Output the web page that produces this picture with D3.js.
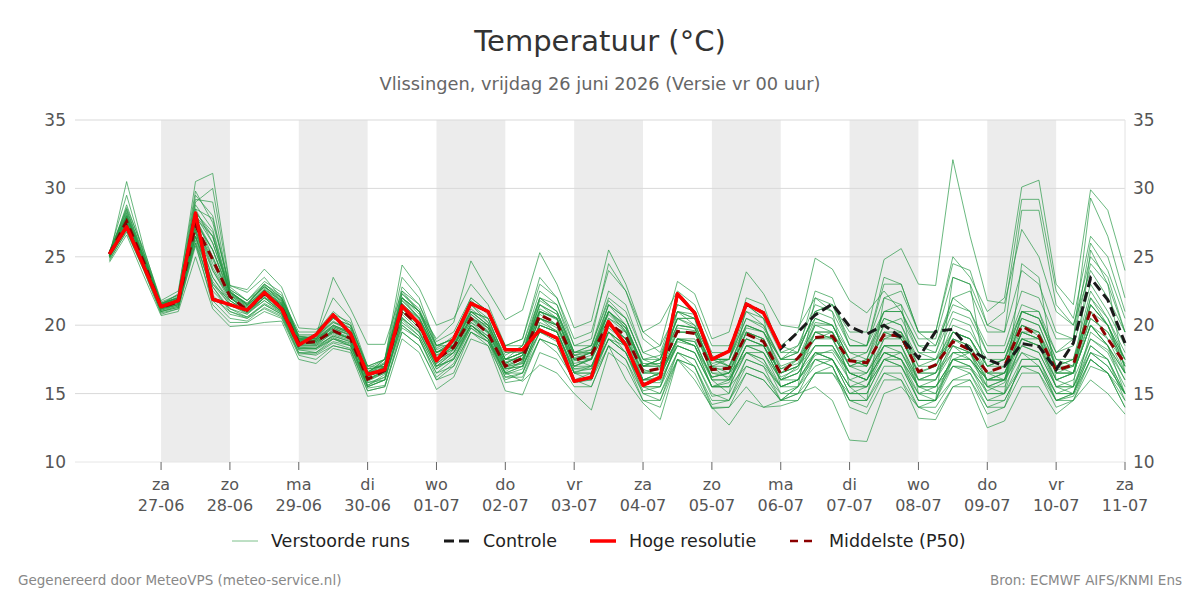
<!DOCTYPE html>
<html lang="nl">
<head>
    <meta charset="UTF-8">
    <title>Temperatuur (°C)</title>
    <script src="https://cdnjs.cloudflare.com/ajax/libs/d3/7.8.5/d3.min.js"></script>
    <style>
        body {
            margin: 0;
            background: #fff;
            font-family: "DejaVu Sans", sans-serif;
        }

        .grid line {
            stroke: #d9d9d9;
        }

        .band {
            fill: #ececec;
        }

        .run {
            fill: none;
            stroke: #239643;
            stroke-opacity: 0.68;
            stroke-width: 1;
        }

        .tick-label {
            fill: #555;
        }
    </style>
</head>
<body>
    <div id="wrapper"></div>
    <script>
        // data: 6-hourly values from 26-06 06 UTC
        const startTime = Date.UTC(2026, 5, 26, 6)
        const stepHours = 6

        const hires = [25.2, 27.2, 24.3, 21.35, 21.8, 28.2, 21.9, 21.5, 21.1, 22.4, 21.2, 18.55,
            19.3, 20.75, 19.4, 16.4, 16.75, 21.4, 20.1, 17.4, 19.0, 21.6, 21.0, 18.2,
            18.2, 19.65, 19.05, 15.9, 16.2, 20.25, 18.55, 15.6, 16.2, 22.3, 20.9, 17.5,
            18.1, 21.55, 20.9, 18.3]

        const control = [25.2, 27.2, 24.3, 21.35, 21.8, 28.2, 21.9, 21.5, 21.1, 22.4, 21.2, 18.55,
            19.3, 20.75, 19.4, 16.4, 16.75, 21.4, 20.1, 17.4, 19.0, 21.6, 21.0, 18.2,
            18.2, 19.65, 19.05, 15.9, 16.2, 20.25, 18.55, 15.6, 16.2, 22.3, 20.9, 17.5,
            18.1, 21.55, 20.9, 18.3, 19.5, 20.75, 21.55, 19.9, 19.35, 20.0, 19.1, 17.6,
            19.55, 19.7, 18.2, 17.5, 17.0, 18.65, 18.45, 16.75, 18.7, 23.45, 21.85, 18.7]

        const p50 = [25.2, 27.6, 24.6, 21.3, 21.7, 27.3, 24.8, 22.1, 21.1, 22.3, 21.3, 18.7,
            18.8, 19.6, 19.05, 16.05, 16.7, 21.1, 19.9, 17.5, 18.4, 20.5, 19.4, 17.0,
            17.6, 20.75, 20.15, 17.4, 17.85, 20.2, 19.2, 16.6, 16.85, 19.55, 19.4, 16.75,
            16.85, 19.35, 18.8, 16.45, 17.6, 19.1, 19.2, 17.4, 17.25, 19.3, 19.2, 16.6,
            17.1, 18.8, 18.2, 16.55, 17.0, 19.95, 19.2, 16.7, 17.1, 21.1, 19.0, 17.2]

        const members = [
            [25.0, 30.5, 25.6, 21.6, 22.0, 29.0, 30.0, 22.8, 21.8, 23.0, 22.2, 19.2, 19.0, 20.5, 19.8, 16.5, 17.2, 22.5, 21.0, 18.0, 18.8, 21.5, 20.2, 17.8, 18.5, 22.0, 21.0, 18.0, 18.2, 21.5, 20.0, 17.0, 17.5, 20.5, 19.8, 17.0, 16.0, 18.5, 18.0, 15.5, 16.0, 17.8, 18.2, 16.5, 16.0, 18.0, 17.5, 15.0, 15.5, 17.0, 16.8, 15.2, 15.8, 18.5, 18.0, 15.5, 16.0, 19.0, 18.2, 16.0],
            [25.3, 29.5, 25.2, 21.5, 22.3, 30.5, 31.1, 22.9, 22.4, 23.5, 22.0, 19.5, 19.5, 21.0, 20.0, 17.0, 17.5, 23.5, 22.0, 18.5, 19.0, 22.0, 21.0, 18.0, 18.0, 21.0, 20.0, 17.0, 17.0, 19.5, 18.5, 16.0, 16.5, 19.0, 18.5, 16.2, 16.5, 19.5, 19.0, 16.8, 17.5, 20.5, 20.0, 17.5, 17.0, 20.0, 19.5, 16.0, 16.5, 19.5, 19.0, 17.0, 17.5, 21.0, 20.5, 17.5, 17.0, 22.0, 20.0, 17.0],
            [25.1, 28.0, 24.8, 21.4, 21.9, 28.5, 26.0, 22.5, 21.5, 22.8, 21.8, 19.0, 19.2, 23.5, 21.2, 18.6, 18.6, 22.5, 21.5, 18.5, 19.0, 21.0, 20.0, 17.5, 17.5, 20.0, 19.5, 16.5, 16.0, 18.5, 17.5, 15.0, 14.5, 17.5, 17.0, 14.5, 14.5, 16.5, 16.0, 14.5, 15.5, 17.0, 17.5, 15.5, 15.5, 18.5, 18.5, 15.5, 15.0, 17.5, 17.5, 15.5, 16.0, 19.0, 18.5, 15.5, 15.5, 18.0, 17.0, 15.0],
            [25.2, 27.8, 24.7, 21.2, 21.6, 27.0, 23.5, 21.8, 21.0, 22.0, 21.5, 19.0, 19.0, 20.0, 19.5, 16.5, 17.5, 22.0, 21.0, 19.0, 20.2, 24.7, 22.5, 20.4, 21.1, 25.3, 23.0, 19.8, 20.3, 25.5, 23.0, 19.5, 18.5, 21.0, 20.0, 17.5, 17.0, 19.0, 18.5, 16.5, 17.0, 18.5, 18.5, 16.0, 16.5, 18.5, 18.0, 16.0, 16.0, 18.0, 18.0, 16.5, 16.5, 19.5, 19.0, 16.5, 16.5, 20.5, 19.5, 17.0],
            [25.0, 27.0, 24.2, 21.0, 21.3, 26.5, 22.0, 21.0, 20.5, 21.5, 20.8, 18.0, 18.0, 19.0, 18.5, 15.5, 16.0, 20.0, 19.0, 16.5, 17.0, 19.5, 18.8, 16.5, 15.9, 17.1, 16.5, 15.0, 13.8, 18.0, 17.0, 14.5, 14.0, 17.5, 17.0, 14.2, 14.5, 17.0, 16.5, 14.5, 15.0, 16.5, 17.0, 14.5, 14.5, 17.0, 17.0, 14.5, 14.5, 16.0, 16.5, 14.0, 14.5, 17.0, 17.0, 15.0, 15.0, 18.0, 17.5, 15.0],
            [25.3, 28.5, 25.0, 21.5, 22.0, 28.8, 27.0, 22.5, 21.5, 23.0, 22.0, 19.3, 19.3, 20.5, 20.0, 16.8, 17.0, 22.0, 20.5, 18.0, 18.5, 21.0, 20.5, 17.5, 18.0, 22.0, 21.0, 18.0, 18.5, 22.0, 21.0, 18.0, 18.5, 23.2, 22.3, 19.0, 19.5, 23.9, 22.3, 20.0, 19.8, 22.0, 21.5, 19.0, 18.5, 21.0, 21.0, 18.5, 18.0, 21.0, 20.5, 18.0, 18.0, 21.5, 21.0, 18.0, 18.5, 23.0, 21.0, 18.5],
            [25.1, 27.3, 24.5, 21.3, 21.7, 26.0, 22.5, 21.2, 20.8, 21.8, 21.0, 18.3, 18.3, 19.0, 18.7, 15.8, 16.0, 20.5, 19.5, 17.0, 17.5, 20.0, 19.0, 16.5, 17.0, 19.5, 19.0, 16.5, 16.5, 19.0, 18.0, 15.5, 15.0, 17.5, 16.0, 14.0, 12.7, 14.5, 14.0, 14.1, 14.5, 16.5, 16.5, 15.0, 15.5, 17.5, 17.0, 15.0, 15.0, 17.0, 17.0, 15.5, 15.5, 18.0, 17.5, 15.0, 15.5, 19.0, 18.0, 15.5],
            [25.2, 27.5, 24.5, 21.4, 21.8, 27.5, 24.0, 22.0, 21.2, 22.5, 21.5, 18.8, 18.8, 19.5, 19.0, 16.0, 16.5, 21.0, 20.0, 17.5, 18.5, 21.0, 20.0, 17.5, 18.0, 21.5, 20.5, 17.5, 17.5, 21.0, 20.0, 17.0, 17.0, 20.5, 20.0, 17.5, 17.5, 21.0, 20.5, 18.5, 19.5, 24.9, 24.1, 21.8, 20.9, 22.5, 21.0, 18.0, 17.5, 19.0, 18.5, 16.5, 16.5, 19.0, 18.5, 16.0, 16.5, 20.0, 18.5, 16.5],
            [25.0, 27.2, 24.4, 21.1, 21.5, 27.0, 23.0, 21.5, 20.8, 22.0, 21.0, 18.5, 18.5, 19.2, 18.8, 15.5, 16.0, 20.5, 19.5, 17.0, 18.0, 20.0, 19.0, 16.5, 17.0, 20.0, 19.5, 16.5, 17.0, 19.5, 18.5, 16.0, 16.0, 18.5, 18.0, 15.5, 15.5, 17.0, 16.5, 15.0, 15.0, 15.5, 14.5, 11.6, 11.5, 15.0, 15.5, 14.0, 14.0, 16.0, 16.0, 14.0, 14.0, 16.5, 16.5, 14.0, 14.5, 17.5, 16.5, 14.0],
            [25.3, 28.2, 24.9, 21.5, 22.1, 29.5, 28.0, 22.6, 21.8, 23.2, 22.4, 19.0, 19.0, 20.0, 19.5, 16.5, 17.0, 21.5, 20.5, 18.0, 18.5, 20.8, 19.8, 17.0, 17.5, 20.5, 20.0, 17.5, 18.0, 20.5, 19.5, 17.0, 17.0, 19.5, 19.5, 17.0, 17.5, 20.0, 19.5, 17.5, 18.0, 21.0, 21.5, 19.5, 19.5, 24.8, 25.6, 23.0, 22.9, 32.1, 26.5, 21.8, 21.6, 27.0, 25.0, 21.0, 20.0, 24.0, 22.0, 19.5],
            [25.2, 27.9, 24.7, 21.4, 21.8, 27.8, 25.5, 22.3, 21.3, 22.6, 21.6, 18.9, 18.9, 20.0, 19.4, 16.2, 17.0, 21.8, 20.5, 18.0, 18.8, 21.5, 20.5, 17.5, 18.0, 21.0, 20.5, 17.5, 18.0, 21.0, 20.0, 17.0, 17.5, 20.5, 20.5, 17.5, 17.5, 20.5, 20.0, 17.5, 18.5, 21.5, 21.0, 18.5, 18.5, 22.0, 22.5, 19.5, 19.5, 25.0, 23.5, 21.0, 22.0, 30.1, 30.6, 23.0, 21.5, 29.9, 28.4, 24.0],
            [25.0, 28.8, 25.3, 21.7, 22.2, 29.2, 29.0, 22.4, 21.6, 22.8, 22.0, 19.0, 18.8, 19.8, 19.2, 16.4, 17.2, 22.0, 21.0, 18.5, 18.5, 20.5, 20.0, 17.5, 18.5, 22.5, 21.5, 18.5, 18.5, 22.5, 21.5, 18.0, 17.5, 21.0, 20.5, 17.5, 17.0, 20.0, 19.5, 17.0, 17.5, 20.0, 20.0, 18.0, 18.0, 21.0, 21.5, 19.0, 19.0, 23.5, 23.0, 20.0, 21.0, 29.2, 29.2, 22.5, 20.5, 26.5, 25.0, 21.0],
            [25.4, 28.3, 25.0, 21.6, 22.0, 28.0, 26.5, 22.2, 21.2, 22.5, 21.5, 18.8, 18.6, 19.7, 19.3, 16.2, 16.8, 21.2, 20.2, 17.8, 18.2, 20.5, 19.8, 17.2, 17.8, 21.5, 20.8, 17.8, 17.5, 21.5, 20.5, 17.5, 17.0, 20.0, 19.8, 17.0, 17.0, 19.8, 19.5, 17.5, 18.0, 21.0, 20.5, 18.0, 17.5, 20.0, 20.5, 18.0, 18.0, 22.0, 22.5, 19.5, 19.5, 28.4, 28.4, 21.5, 20.0, 25.0, 23.5, 19.5],
            [25.1, 27.4, 24.5, 21.2, 21.6, 27.5, 24.5, 22.0, 21.0, 22.3, 21.3, 18.6, 18.7, 19.5, 19.0, 16.0, 16.6, 21.0, 19.8, 17.4, 18.3, 20.2, 19.5, 16.8, 17.2, 20.5, 20.0, 17.0, 17.5, 20.0, 19.0, 16.5, 16.5, 19.5, 19.5, 16.5, 16.5, 19.0, 18.5, 16.0, 17.0, 19.0, 19.5, 17.0, 17.0, 19.5, 19.0, 16.5, 17.0, 19.5, 19.0, 17.0, 17.5, 21.0, 20.5, 18.0, 19.0, 29.3, 26.5, 22.0],
            [24.8, 26.8, 24.0, 20.8, 21.2, 26.0, 21.5, 20.2, 20.2, 21.0, 20.5, 17.8, 17.5, 18.5, 18.2, 15.2, 15.5, 19.5, 18.5, 16.0, 16.5, 19.5, 18.8, 15.8, 16.0, 19.0, 18.5, 15.8, 16.0, 19.0, 18.0, 15.0, 15.0, 18.0, 17.5, 14.8, 15.0, 17.5, 17.0, 14.5, 14.5, 16.5, 16.5, 14.5, 14.0, 16.5, 16.5, 14.0, 13.5, 15.5, 15.5, 12.5, 13.0, 15.5, 15.5, 13.5, 14.5, 16.0, 15.0, 13.5],
            [25.2, 27.0, 24.3, 21.3, 21.7, 26.5, 23.0, 21.8, 21.0, 22.0, 21.0, 18.5, 18.5, 19.5, 19.0, 16.5, 17.5, 24.4, 22.7, 20.0, 20.5, 23.0, 21.5, 18.5, 18.5, 21.0, 20.5, 17.5, 17.0, 20.0, 19.5, 16.5, 16.5, 19.0, 18.5, 16.0, 16.0, 18.5, 18.0, 16.0, 16.5, 18.5, 18.5, 16.5, 16.5, 18.5, 18.5, 16.0, 16.5, 18.0, 17.5, 16.0, 16.5, 19.0, 18.5, 16.0, 16.5, 20.0, 18.5, 16.5],
            [24.6, 26.6, 23.6, 20.7, 21.0, 25.0, 21.2, 19.9, 20.0, 20.2, 20.3, 17.5, 17.2, 18.3, 18.0, 14.8, 15.0, 19.0, 18.0, 15.3, 16.2, 19.0, 18.5, 15.2, 14.9, 18.0, 17.5, 15.5, 15.5, 18.5, 17.5, 14.5, 14.5, 18.0, 17.0, 14.0, 14.0, 16.5, 16.0, 14.5, 15.0, 17.5, 17.5, 15.0, 15.0, 17.5, 17.0, 14.5, 14.5, 17.0, 16.5, 14.5, 15.0, 17.5, 17.5, 15.0, 15.0, 18.5, 17.5, 15.0],
            [25.4, 28.6, 25.5, 21.8, 22.5, 29.8, 27.5, 22.9, 22.6, 24.1, 22.8, 19.8, 19.7, 20.5, 20.0, 17.0, 17.5, 22.0, 21.0, 18.5, 19.0, 21.5, 21.0, 18.5, 19.0, 23.5, 22.0, 18.5, 19.0, 24.5, 22.5, 19.0, 18.0, 21.5, 21.0, 18.0, 18.0, 21.5, 20.5, 18.0, 18.5, 20.5, 20.0, 17.5, 17.0, 19.5, 19.5, 17.0, 17.0, 20.0, 19.5, 17.5, 17.5, 20.0, 19.5, 17.0, 17.5, 21.0, 20.0, 17.5],
            [25.0, 27.1, 24.3, 21.1, 21.4, 26.8, 22.8, 21.0, 20.6, 21.5, 20.8, 18.2, 18.2, 19.0, 18.5, 15.8, 16.2, 20.0, 19.0, 16.5, 17.5, 19.8, 19.0, 16.8, 17.0, 19.5, 18.8, 16.0, 15.5, 18.5, 16.0, 14.3, 13.1, 17.5, 16.5, 13.9, 14.0, 15.5, 14.0, 14.5, 15.5, 18.0, 17.5, 15.5, 16.0, 18.0, 17.5, 15.5, 15.5, 17.5, 17.0, 15.0, 15.0, 17.0, 16.5, 14.5, 15.0, 18.0, 17.0, 15.0],
            [25.2, 27.6, 24.6, 21.3, 21.7, 27.2, 24.8, 22.1, 21.1, 22.3, 21.3, 18.7, 18.8, 19.6, 19.0, 16.0, 16.7, 21.0, 19.8, 17.5, 18.5, 20.5, 19.5, 17.0, 17.5, 20.8, 20.0, 17.4, 17.8, 20.2, 19.0, 16.6, 16.9, 19.5, 19.4, 16.8, 16.8, 19.4, 18.8, 16.5, 17.5, 19.0, 19.2, 17.5, 17.3, 19.2, 19.3, 16.6, 17.0, 19.0, 18.2, 16.5, 17.0, 20.0, 19.2, 16.7, 17.1, 21.0, 19.0, 17.2],
            [25.3, 28.0, 24.9, 21.5, 21.9, 27.8, 26.5, 22.3, 21.4, 22.6, 21.8, 19.0, 19.0, 20.2, 19.6, 16.6, 17.2, 22.0, 20.8, 18.2, 18.8, 21.2, 20.2, 17.2, 17.8, 21.2, 20.5, 17.8, 18.2, 21.0, 19.8, 16.8, 16.2, 19.0, 18.8, 16.2, 16.5, 18.0, 17.2, 15.5, 16.0, 19.5, 19.5, 17.0, 17.5, 20.5, 20.0, 17.0, 17.5, 20.5, 20.0, 17.0, 17.0, 20.5, 20.0, 17.0, 17.0, 22.0, 20.5, 17.5],
            [24.9, 27.0, 24.2, 21.0, 21.4, 26.2, 22.2, 20.8, 20.5, 21.2, 20.6, 18.0, 17.8, 18.5, 18.2, 15.2, 15.5, 19.5, 18.5, 16.0, 17.0, 19.5, 18.5, 16.0, 16.5, 19.0, 18.0, 16.0, 16.5, 19.5, 18.5, 16.0, 16.5, 18.5, 18.0, 15.5, 16.0, 18.5, 18.5, 16.5, 17.0, 20.0, 19.5, 17.0, 17.5, 21.0, 21.0, 18.5, 18.5, 21.5, 21.0, 18.5, 18.5, 22.5, 22.0, 19.0, 19.0, 26.0, 24.0, 20.5],
            [25.1, 27.5, 24.6, 21.3, 21.8, 27.3, 25.0, 22.0, 21.1, 22.2, 21.4, 18.6, 18.6, 19.4, 19.0, 16.0, 16.8, 21.5, 20.0, 17.5, 18.0, 20.5, 19.5, 17.0, 17.2, 21.0, 20.5, 17.0, 17.5, 21.0, 19.5, 16.0, 16.0, 21.0, 20.5, 16.0, 15.0, 21.5, 20.5, 15.5, 15.5, 22.0, 21.0, 15.5, 14.5, 22.0, 21.5, 15.0, 14.5, 23.5, 23.0, 15.5, 15.0, 24.5, 23.5, 16.0, 15.5, 25.5, 23.0, 16.5],
            [25.0, 27.8, 24.8, 21.4, 21.8, 28.0, 26.0, 22.4, 21.5, 22.5, 21.6, 18.9, 18.9, 19.8, 19.3, 16.3, 17.0, 21.5, 20.0, 17.2, 18.0, 20.0, 19.2, 16.8, 17.0, 20.0, 19.5, 16.8, 17.0, 20.0, 19.0, 16.0, 16.5, 19.0, 18.5, 15.5, 15.5, 18.0, 17.5, 15.0, 15.5, 17.5, 17.0, 14.0, 13.5, 16.0, 16.0, 13.2, 13.1, 15.5, 16.0, 13.5, 14.0, 17.5, 17.5, 14.5, 15.0, 19.5, 18.5, 15.0],
            [25.3, 28.4, 25.2, 21.6, 22.2, 28.5, 27.8, 22.6, 21.8, 22.8, 21.9, 19.2, 19.2, 20.2, 19.8, 16.8, 17.5, 22.8, 21.5, 18.8, 19.5, 22.0, 21.0, 18.5, 19.0, 23.0, 22.0, 19.0, 19.5, 24.0, 22.5, 19.5, 20.2, 22.5, 21.5, 18.5, 18.5, 21.0, 20.0, 17.5, 17.5, 19.0, 19.0, 16.5, 16.0, 19.0, 19.0, 16.5, 16.5, 19.5, 19.0, 16.5, 16.0, 20.0, 19.5, 16.5, 16.5, 21.5, 20.0, 17.0],
            [25.2, 27.7, 24.7, 21.3, 21.6, 27.6, 25.5, 22.1, 21.0, 22.4, 21.2, 18.9, 19.2, 22.0, 20.5, 17.0, 17.0, 21.5, 20.0, 17.0, 17.5, 20.0, 19.0, 16.5, 16.5, 20.0, 19.5, 16.5, 16.5, 19.0, 18.5, 15.5, 15.5, 19.0, 19.0, 16.0, 16.0, 18.0, 18.0, 16.0, 16.5, 18.0, 18.0, 16.0, 15.5, 17.5, 18.0, 15.5, 15.5, 17.5, 17.5, 16.0, 16.0, 18.5, 18.0, 15.5, 15.5, 18.5, 17.5, 14.5],
            [25.1, 27.3, 24.4, 21.2, 21.5, 26.8, 23.5, 21.6, 20.9, 22.0, 21.0, 18.4, 18.4, 19.2, 18.8, 15.6, 16.4, 20.6, 19.4, 17.0, 18.0, 20.2, 19.2, 16.6, 17.4, 20.5, 19.8, 17.0, 17.6, 20.5, 19.8, 17.0, 17.5, 20.0, 19.8, 17.2, 17.5, 20.5, 19.8, 17.5, 17.5, 19.5, 19.5, 17.5, 18.0, 20.5, 20.0, 17.5, 17.5, 19.5, 19.0, 17.0, 17.5, 20.5, 20.0, 17.0, 17.5, 22.5, 20.5, 18.0],
            [24.9, 27.1, 24.2, 21.0, 21.3, 26.5, 22.8, 21.2, 20.6, 21.6, 20.9, 18.2, 18.0, 18.8, 18.5, 15.5, 16.0, 20.2, 19.2, 16.8, 17.8, 20.0, 19.0, 16.2, 16.5, 19.5, 19.0, 16.0, 16.0, 19.5, 18.0, 15.5, 15.5, 18.0, 17.5, 15.0, 14.5, 17.5, 17.0, 15.5, 16.0, 17.5, 17.0, 14.5, 14.5, 16.5, 16.0, 14.0, 14.5, 18.0, 18.0, 15.0, 15.0, 19.0, 19.0, 15.5, 15.0, 17.5, 16.5, 14.5],
            [25.2, 27.9, 24.8, 21.4, 21.9, 27.9, 25.0, 22.2, 21.3, 22.5, 21.5, 18.8, 18.9, 19.9, 19.4, 16.4, 16.9, 21.6, 20.4, 17.8, 18.6, 20.8, 19.8, 17.3, 17.8, 21.5, 20.8, 17.8, 18.0, 21.0, 19.8, 17.2, 17.2, 20.5, 20.5, 17.5, 17.5, 21.5, 21.0, 18.5, 18.0, 21.0, 21.5, 18.5, 18.5, 23.0, 23.0, 19.5, 18.5, 22.0, 21.0, 18.0, 18.0, 21.0, 20.5, 17.5, 17.5, 21.5, 20.0, 17.5],
            [25.0, 27.4, 24.4, 21.2, 21.5, 27.0, 24.0, 21.8, 21.0, 22.1, 21.1, 18.4, 18.3, 19.3, 18.9, 15.9, 16.5, 20.8, 19.6, 17.2, 18.2, 20.4, 19.4, 16.9, 17.3, 20.5, 20.0, 17.2, 17.5, 20.0, 19.0, 16.5, 16.8, 19.8, 19.6, 16.5, 16.2, 19.0, 18.5, 16.0, 16.5, 18.5, 18.5, 16.5, 16.0, 18.5, 18.5, 16.0, 16.0, 18.5, 18.0, 16.0, 16.5, 19.5, 19.0, 16.5, 16.5, 20.0, 18.5, 16.0],
            [25.3, 28.1, 24.9, 21.5, 22.0, 28.2, 26.8, 22.4, 21.6, 22.9, 21.7, 19.1, 19.1, 20.3, 19.6, 16.6, 17.3, 22.3, 21.2, 18.3, 19.2, 21.8, 20.8, 18.0, 18.2, 20.5, 19.5, 16.8, 16.8, 19.5, 18.5, 15.8, 15.8, 18.5, 18.0, 15.5, 15.8, 18.5, 18.5, 16.0, 16.0, 18.0, 17.5, 15.0, 15.0, 17.5, 17.5, 15.5, 16.0, 19.0, 18.5, 16.0, 16.0, 18.0, 17.0, 14.5, 14.8, 17.5, 16.5, 15.0],
            [25.1, 27.6, 24.6, 21.3, 21.8, 27.6, 24.2, 22.0, 21.2, 22.4, 21.4, 18.7, 18.7, 19.6, 19.1, 16.1, 16.6, 21.2, 20.0, 17.6, 18.4, 20.6, 19.6, 17.1, 17.6, 21.0, 20.4, 17.6, 18.0, 20.8, 19.6, 17.0, 17.2, 20.0, 19.8, 17.0, 16.5, 19.5, 19.0, 16.5, 17.0, 19.5, 19.0, 17.0, 16.5, 19.0, 19.5, 17.5, 17.5, 18.5, 17.5, 16.0, 16.5, 19.5, 19.5, 16.5, 17.0, 20.5, 19.5, 17.5],
            [24.7, 26.9, 24.0, 20.9, 21.2, 25.8, 21.8, 20.5, 20.3, 21.3, 20.7, 17.9, 17.9, 18.7, 18.3, 15.4, 15.6, 19.8, 19.0, 16.2, 17.2, 19.8, 18.8, 16.2, 16.2, 19.0, 18.5, 16.0, 16.2, 19.0, 18.0, 15.2, 15.5, 18.8, 18.5, 15.5, 15.5, 18.0, 17.5, 15.5, 16.0, 18.0, 17.5, 15.5, 15.5, 18.0, 18.0, 15.5, 15.5, 17.5, 17.0, 14.5, 14.5, 17.0, 17.0, 14.5, 14.5, 17.0, 16.5, 14.0],
            [25.4, 28.0, 25.0, 21.6, 22.0, 27.5, 25.5, 22.4, 21.5, 23.0, 22.0, 19.2, 19.0, 20.8, 20.2, 16.8, 17.0, 22.3, 21.0, 18.0, 18.5, 21.0, 20.5, 17.5, 18.0, 22.0, 21.5, 18.0, 18.0, 21.5, 20.5, 17.5, 17.5, 21.5, 21.0, 17.5, 17.5, 22.0, 21.5, 18.0, 18.0, 22.5, 22.0, 18.5, 18.5, 23.5, 23.0, 19.5, 19.5, 24.5, 24.0, 20.0, 19.5, 24.0, 23.0, 19.5, 19.0, 24.5, 23.0, 19.5],
            [25.0, 27.3, 24.4, 21.2, 21.5, 26.5, 23.2, 21.5, 20.9, 21.8, 20.9, 18.3, 18.3, 19.1, 18.6, 15.6, 16.2, 20.4, 19.2, 16.8, 17.6, 20.0, 19.0, 16.4, 16.8, 20.2, 19.6, 16.6, 16.8, 19.8, 18.8, 16.0, 16.2, 19.0, 18.8, 16.2, 16.5, 19.5, 19.0, 16.2, 16.8, 19.5, 19.0, 16.5, 16.0, 18.0, 17.5, 14.5, 14.5, 17.5, 18.0, 15.5, 16.0, 21.0, 21.0, 17.0, 16.5, 21.5, 20.0, 16.5],
            [25.2, 27.8, 24.8, 21.4, 21.9, 28.3, 26.5, 22.4, 21.4, 22.7, 21.7, 18.9, 18.9, 19.9, 19.4, 16.3, 16.9, 21.8, 20.6, 18.0, 18.7, 21.0, 20.0, 17.2, 17.8, 21.8, 21.0, 18.0, 18.5, 21.8, 20.5, 17.5, 17.8, 21.0, 20.8, 17.8, 17.0, 20.0, 19.5, 16.8, 17.2, 20.2, 20.0, 17.5, 17.0, 19.5, 19.0, 16.5, 16.5, 18.5, 18.0, 16.0, 16.0, 19.5, 19.0, 16.0, 16.5, 20.0, 19.0, 16.5]
        ]

        const tickDays = ['za', 'zo', 'ma', 'di', 'wo', 'do', 'vr', 'za', 'zo', 'ma', 'di', 'wo', 'do', 'vr', 'za']
        const tickDates = ['27-06', '28-06', '29-06', '30-06', '01-07', '02-07', '03-07', '04-07',
            '05-07', '06-07', '07-07', '08-07', '09-07', '10-07', '11-07']
        const yTicks = [10, 15, 20, 25, 30, 35]
        // grey bands: every other day starting 27-06
        const shadedDays = [0, 2, 4, 6, 8, 10, 12]

        const legendItems = [
            { label: 'Verstoorde runs', color: '#7cc08a', width: 1, dash: null, x: 232 },
            { label: 'Controle', color: '#1a1a1a', width: 3, dash: '10,5', x: 444 },
            { label: 'Hoge resolutie', color: '#ff0000', width: 3.5, dash: null, x: 590 },
            { label: 'Middelste (P50)', color: '#8b0000', width: 2.5, dash: '8,6', x: 790 },
        ]

        function drawChart() {
            // 1. dimensions
            let dimensions = {
                width: 1200,
                height: 600,
                margin: { top: 120, right: 75, bottom: 138, left: 75 }
            }
            dimensions.boundedWidth = dimensions.width - dimensions.margin.left - dimensions.margin.right
            dimensions.boundedHeight = dimensions.height - dimensions.margin.top - dimensions.margin.bottom

            const timeAt = i => new Date(startTime + i * stepHours * 3600 * 1000)
            const dayAt = k => new Date(Date.UTC(2026, 5, 27 + k))

            // 2. canvas
            const svg = d3.select('#wrapper')
                .append('svg')
                .attr('width', dimensions.width)
                .attr('height', dimensions.height)
                .style('display', 'block')

            svg.append('text')
                .attr('x', dimensions.width / 2)
                .attr('y', 51)
                .attr('text-anchor', 'middle')
                .attr('fill', '#333')
                .style('font-size', '29px')
                .text('Temperatuur (°C)')

            svg.append('text')
                .attr('x', dimensions.width / 2)
                .attr('y', 90)
                .attr('text-anchor', 'middle')
                .attr('fill', '#666')
                .style('font-size', '17.8px')
                .text('Vlissingen, vrijdag 26 juni 2026 (Versie vr 00 uur)')

            const bounds = svg.append('g')
                .attr('transform', `translate(${dimensions.margin.left},${dimensions.margin.top})`)

            // 3. scales
            const xScale = d3.scaleUtc()
                .domain([new Date(Date.UTC(2026, 5, 25, 18)), new Date(Date.UTC(2026, 6, 11, 0))])
                .range([0, dimensions.boundedWidth])

            const yScale = d3.scaleLinear()
                .domain([10, 35])
                .range([dimensions.boundedHeight, 0])

            // 4. background bands + grid
            bounds.append('g')
                .selectAll('rect')
                .data(shadedDays)
                .join('rect')
                .attr('class', 'band')
                .attr('x', k => xScale(dayAt(k)))
                .attr('width', k => xScale(dayAt(k + 1)) - xScale(dayAt(k)))
                .attr('y', 0)
                .attr('height', dimensions.boundedHeight)

            bounds.append('g')
                .attr('class', 'grid')
                .selectAll('line')
                .data(yTicks.filter(d => d > 10))
                .join('line')
                .attr('x1', 0)
                .attr('x2', dimensions.boundedWidth)
                .attr('y1', d => yScale(d))
                .attr('y2', d => yScale(d))

            // right edge line
            bounds.append('line')
                .attr('x1', dimensions.boundedWidth)
                .attr('x2', dimensions.boundedWidth)
                .attr('y1', 0)
                .attr('y2', dimensions.boundedHeight)
                .attr('stroke', '#e2e2e2')

            // 5. lines
            const lineGen = d3.line()
                .x((d, i) => xScale(timeAt(i)))
                .y(d => yScale(d))

            bounds.append('g')
                .selectAll('path')
                .data(members)
                .join('path')
                .attr('class', 'run')
                .attr('d', lineGen)

            bounds.append('path')
                .attr('d', lineGen(p50))
                .attr('fill', 'none')
                .attr('stroke', '#8b0000')
                .attr('stroke-width', 3)
                .attr('stroke-dasharray', '9,6')

            bounds.append('path')
                .attr('d', lineGen(control))
                .attr('fill', 'none')
                .attr('stroke', '#1a1a1a')
                .attr('stroke-width', 3)
                .attr('stroke-dasharray', '10,5')

            bounds.append('path')
                .attr('d', lineGen(hires))
                .attr('fill', 'none')
                .attr('stroke', '#ff0000')
                .attr('stroke-width', 3.5)
                .attr('stroke-linejoin', 'round')

            // 6. axes
            const leftAxis = bounds.append('g')
            leftAxis.selectAll('text')
                .data(yTicks)
                .join('text')
                .attr('class', 'tick-label')
                .attr('x', -9)
                .attr('y', d => yScale(d))
                .attr('dy', '0.35em')
                .attr('text-anchor', 'end')
                .style('font-size', '17px')
                .text(d => d)

            const rightAxis = bounds.append('g')
            rightAxis.selectAll('text')
                .data(yTicks)
                .join('text')
                .attr('class', 'tick-label')
                .attr('x', dimensions.boundedWidth + 8)
                .attr('y', d => yScale(d))
                .attr('dy', '0.35em')
                .style('font-size', '17px')
                .text(d => d)

            const xAxis = bounds.append('g')
                .attr('transform', `translate(0,${dimensions.boundedHeight})`)

            xAxis.append('line')
                .attr('x1', 0)
                .attr('x2', dimensions.boundedWidth)
                .attr('stroke', '#e6e6e6')

            const xTicks = xAxis.selectAll('.x-tick')
                .data(tickDays.map((d, k) => k))
                .join('g')
                .attr('class', 'x-tick')
                .attr('transform', k => `translate(${xScale(dayAt(k))},0)`)

            xTicks.append('line')
                .attr('y1', 0)
                .attr('y2', 8)
                .attr('stroke', '#666')

            xTicks.append('text')
                .attr('class', 'tick-label')
                .attr('y', 28)
                .attr('text-anchor', 'middle')
                .style('font-size', '16px')
                .text(k => tickDays[k])

            xTicks.append('text')
                .attr('class', 'tick-label')
                .attr('y', 49)
                .attr('text-anchor', 'middle')
                .style('font-size', '16px')
                .text(k => tickDates[k])

            // 7. legend
            const legend = svg.append('g')
                .attr('transform', 'translate(0,541)')

            const items = legend.selectAll('g')
                .data(legendItems)
                .join('g')
                .attr('transform', d => `translate(${d.x},0)`)

            items.append('line')
                .attr('x1', 0)
                .attr('x2', 26)
                .attr('stroke', d => d.color)
                .attr('stroke-width', d => d.width)
                .attr('stroke-dasharray', d => d.dash)

            items.append('text')
                .attr('x', 39)
                .attr('dy', '0.35em')
                .attr('fill', '#222')
                .style('font-size', '17.5px')
                .text(d => d.label)

            // 8. footer
            svg.append('text')
                .attr('x', 18)
                .attr('y', 585)
                .attr('fill', '#888')
                .style('font-size', '13.5px')
                .text('Gegenereerd door MeteoVPS (meteo-service.nl)')

            svg.append('text')
                .attr('x', 1182)
                .attr('y', 585)
                .attr('text-anchor', 'end')
                .attr('fill', '#888')
                .style('font-size', '13.5px')
                .text('Bron: ECMWF AIFS/KNMI Ens')
        }

        drawChart()
    </script>
</body>
</html>
